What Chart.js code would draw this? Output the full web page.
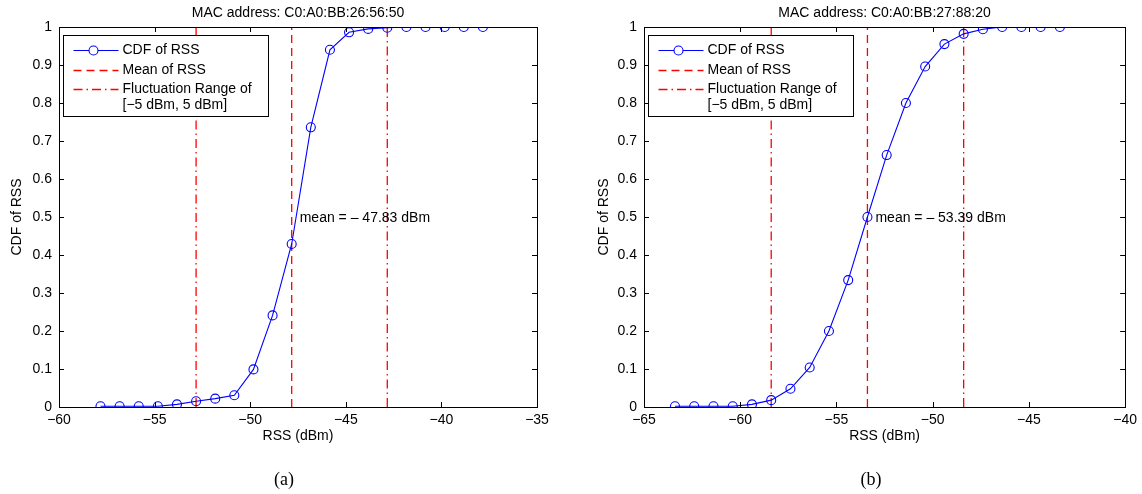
<!DOCTYPE html>
<html>
<head>
<meta charset="utf-8">
<script src="https://cdn.jsdelivr.net/npm/chart.js@4"></script>
<style>
  body { margin: 0; background: #fff; }
  #wrap { position: relative; width: 1142px; height: 494px; }
  .panel { position: absolute; top: 0; width: 571px; height: 494px; }
  .cap { position: absolute; top: 469px; width: 60px; text-align: center;
         font-family: "Liberation Serif", "DejaVu Serif", serif; font-size: 18px; color: #000; }
</style>
</head>
<body>
<div id="wrap">
  <div class="panel" style="left:0"><canvas id="chartA"></canvas></div>
  <div class="panel" style="left:571px"><canvas id="chartB"></canvas></div>
  <div class="cap" style="left:254px">(a)</div>
  <div class="cap" style="left:841px">(b)</div>
</div>
<script>
// Panel (a)
const titleA = 'MAC address: C0:A0:BB:26:56:50';
const rssA = [-57.83, -56.83, -55.83, -54.83, -53.83, -52.83, -51.83, -50.83, -49.83, -48.83, -47.83,
              -46.83, -45.83, -44.83, -43.83, -42.83, -41.83, -40.83, -39.83, -38.83, -37.83];
const cdfA = [0.002, 0.002, 0.002, 0.002, 0.007, 0.015, 0.022, 0.031, 0.099, 0.241, 0.429,
              0.736, 0.94, 0.986, 0.995, 0.998, 1, 1, 1, 1, 1];
const meanA = -47.83;
const rangeA = [-52.83, -42.83];
const xTicksA = [-60, -55, -50, -45, -40, -35];

// Panel (b)
const titleB = 'MAC address: C0:A0:BB:27:88:20';
const rssB = [-63.39, -62.39, -61.39, -60.39, -59.39, -58.39, -57.39, -56.39, -55.39, -54.39, -53.39,
              -52.39, -51.39, -50.39, -49.39, -48.39, -47.39, -46.39, -45.39, -44.39, -43.39];
const cdfB = [0.002, 0.002, 0.002, 0.002, 0.007, 0.018, 0.048, 0.104, 0.2, 0.334, 0.5,
              0.663, 0.8, 0.896, 0.955, 0.982, 0.994, 1, 1, 1, 1];
const meanB = -53.39;
const rangeB = [-58.39, -48.39];
const xTicksB = [-65, -60, -55, -50, -45, -40];

const yTicks = [0, 0.1, 0.2, 0.3, 0.4, 0.5, 0.6, 0.7, 0.8, 0.9, 1];
const legendLabels = [['CDF of RSS'], ['Mean of RSS'], ['Fluctuation Range of', '[\u22125 dBm, 5 dBm]']];

Chart.defaults.font.family = '"Liberation Sans", Arial, sans-serif';
Chart.defaults.font.size = 14;
Chart.defaults.color = '#000';

const BLUE = 'rgb(0,0,255)';
const RED = 'rgb(255,0,0)';
const DASH = [8, 5];
const DASHDOT = [9, 4, 1.5, 4];

const minus = v => (v < 0 ? '\u2212' + Math.abs(v) : String(v));

// box, inward ticks, legend, title and mean label (Matlab style)
const matlabLook = {
  id: 'matlabLook',
  afterDatasetsDraw(chart, args, opts) {
    const { ctx, chartArea: a, scales: { x, y } } = chart;
    ctx.save();
    ctx.strokeStyle = '#000';
    ctx.lineWidth = 1;
    ctx.setLineDash([]);
    ctx.beginPath();
    x.ticks.forEach(t => {
      const px = Math.round(x.getPixelForValue(t.value)) + 0.5;
      ctx.moveTo(px, a.bottom); ctx.lineTo(px, a.bottom - 5);
      ctx.moveTo(px, a.top); ctx.lineTo(px, a.top + 5);
    });
    y.ticks.forEach(t => {
      const py = Math.round(y.getPixelForValue(t.value)) + 0.5;
      ctx.moveTo(a.left, py); ctx.lineTo(a.left + 5, py);
      ctx.moveTo(a.right, py); ctx.lineTo(a.right - 5, py);
    });
    ctx.stroke();
    ctx.strokeRect(Math.round(a.left) + 0.5, Math.round(a.top) + 0.5,
                   Math.round(a.right - a.left), Math.round(a.bottom - a.top));

    // title
    ctx.fillStyle = '#000';
    ctx.font = '14px "Liberation Sans", Arial, sans-serif';
    ctx.textAlign = 'center';
    ctx.textBaseline = 'middle';
    ctx.fillText(opts.title, (a.left + a.right) / 2, 13);

    // mean label
    ctx.textAlign = 'left';
    ctx.fillText(opts.note, x.getPixelForValue(opts.mean) + 8, y.getPixelForValue(0.5) + 1);

    // legend
    const bx = Math.round(a.left) + 4.5, by = 35.5, bw = 205, bh = 81;
    ctx.fillStyle = '#fff';
    ctx.fillRect(bx, by, bw, bh);
    ctx.strokeStyle = '#000';
    ctx.strokeRect(bx, by, bw, bh);
    const rows = [14, 34, 53];
    const ds = chart.data.datasets;
    [0, 1, 2].forEach((k, i) => {
      const d = ds[k];
      const ly = Math.round(by + rows[i]) + 0.5;
      ctx.strokeStyle = d.borderColor;
      ctx.lineWidth = d.borderWidth;
      ctx.setLineDash(d.borderDash || []);
      ctx.beginPath();
      ctx.moveTo(bx + 10, ly); ctx.lineTo(bx + 55, ly);
      ctx.stroke();
      ctx.setLineDash([]);
      if (d.pointRadius) {
        ctx.beginPath();
        ctx.arc(bx + 30, ly, d.pointRadius, 0, Math.PI * 2);
        ctx.fillStyle = '#fff';
        ctx.fill();
        ctx.stroke();
      }
      ctx.fillStyle = '#000';
      legendLabels[i].forEach((s, j) => ctx.fillText(s, bx + 59, ly + j * 16));
    });
    ctx.restore();
  }
};

function vline(v, label, dash) {
  return {
    label, data: [{ x: v, y: 0 }, { x: v, y: 1 }],
    borderColor: RED, borderWidth: 1.3, borderDash: dash, pointRadius: 0
  };
}

function makeChart(id, title, rss, cdf, mean, range, xTicks, pad, yWidth) {
  const mk = rss.map((v, i) => ({ x: v, y: cdf[i] }));
  return new Chart(document.getElementById(id), {
    type: 'line',
    data: {
      datasets: [
        { label: 'CDF of RSS', data: mk, borderColor: BLUE, borderWidth: 1.1,
          pointRadius: 4.5, pointBorderColor: BLUE, pointBackgroundColor: 'rgba(0,0,0,0)',
          pointBorderWidth: 1.1, tension: 0 },
        vline(mean, 'Mean of RSS', DASH),
        vline(range[0], 'Fluctuation Range', DASHDOT),
        vline(range[1], 'Fluctuation Range', DASHDOT)
      ]
    },
    options: {
      responsive: true,
      maintainAspectRatio: false,
      animation: false,
      layout: { padding: pad },
      plugins: {
        legend: { display: false },
        tooltip: { enabled: false },
        matlabLook: { title, mean, note: 'mean = \u2013 ' + Math.abs(mean).toFixed(2) + ' dBm' }
      },
      scales: {
        x: {
          type: 'linear', min: xTicks[0], max: xTicks[xTicks.length - 1],
          afterBuildTicks: s => { s.ticks = xTicks.map(v => ({ value: v })); },
          ticks: { padding: 5, maxRotation: 0, callback: minus },
          grid: { display: false, drawTicks: false },
          border: { display: false },
          title: { display: true, text: 'RSS (dBm)', padding: 0 },
          afterFit: s => { s.height = 38; }
        },
        y: {
          min: 0, max: 1,
          afterBuildTicks: s => { s.ticks = yTicks.map(v => ({ value: v })); },
          ticks: { padding: 7, callback: v => String(Math.round(v * 10) / 10) },
          grid: { display: false, drawTicks: false },
          border: { display: false },
          title: { display: true, text: 'CDF of RSS', padding: 0 },
          afterFit: s => { s.width = yWidth; }
        }
      }
    },
    plugins: [matlabLook]
  });
}

makeChart('chartA', titleA, rssA, cdfA, meanA, rangeA, xTicksA,
          { left: 9, top: 27, right: 34, bottom: 49 }, 50);
makeChart('chartB', titleB, rssB, cdfB, meanB, rangeB, xTicksB,
          { left: 25, top: 27, right: 16, bottom: 49 }, 48);
</script>
</body>
</html>
